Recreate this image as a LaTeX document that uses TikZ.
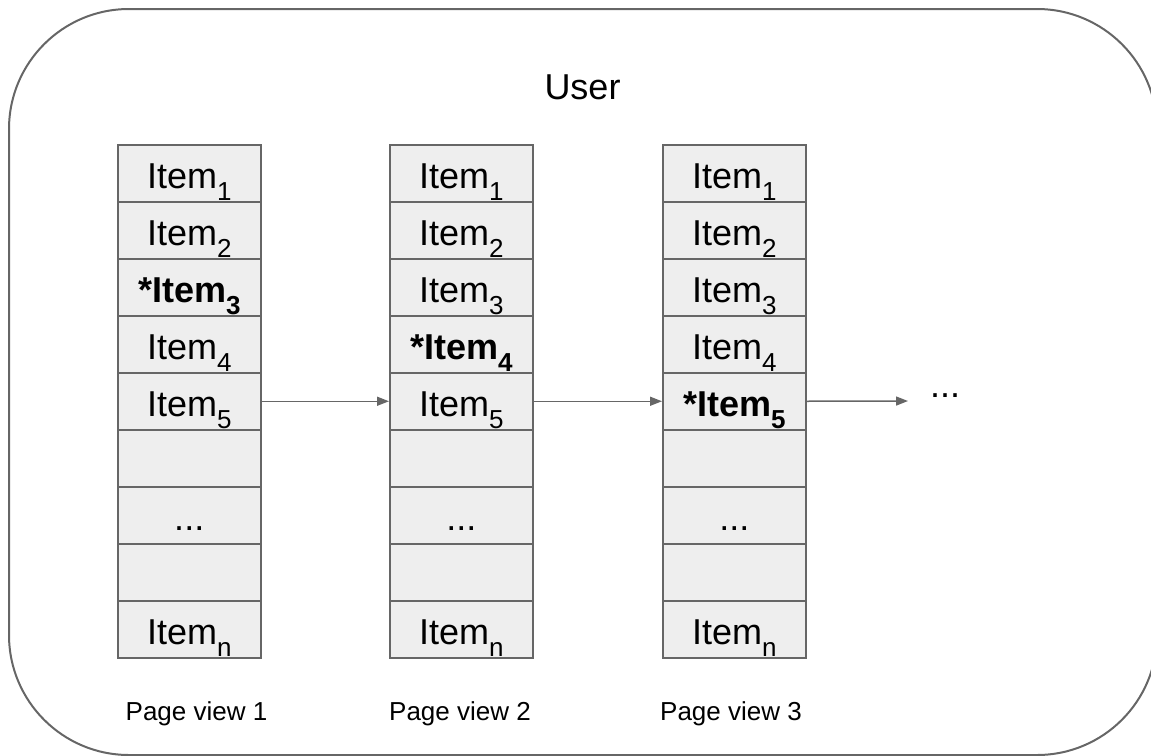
\documentclass[tikz,border=0pt]{standalone}
\usepackage{fontspec}
\setmainfont{Liberation Sans}
\usetikzlibrary{arrows.meta}
\definecolor{edgegray}{HTML}{666666}
\definecolor{cellfill}{HTML}{EEEEEE}
\newcommand{\itm}[1]{Item\raisebox{-12.5pt}{\fontsize{26}{26}\selectfont #1}}
\newcommand{\bitm}[1]{\textbf{*Item\raisebox{-12.5pt}{\fontsize{26}{26}\selectfont #1}}}
\newcommand{\cellcontent}[2]{\ifnum#1<6 \ifnum#1=#2 \bitm{#1}\else\itm{#1}\fi\else\ifnum#1=7 ...\else\ifnum#1=9 \itm{n}\fi\fi\fi}
\begin{document}
\begin{tikzpicture}[x=1pt,y=-1pt,
  cell/.style={draw=edgegray, fill=cellfill, line width=1.5pt, minimum width=143pt,
    minimum height=57pt, inner sep=0pt, anchor=north west, text height=30pt,
    text depth=0pt, font=\fontsize{36}{36}\selectfont},
  arr/.style={draw=edgegray, line width=1.5pt, -{Triangle[length=12pt,width=9pt]}},
  pv/.style={anchor=base, font=\fontsize{26}{26}\selectfont}]
\useasboundingbox (0,0) rectangle (1151,755);
\clip (0,0) rectangle (1151,755);
\draw[edgegray, line width=2pt, rounded corners=120pt] (9,9) rectangle (1157,755);
\node[anchor=base, font=\fontsize{36}{36}\selectfont] (user) at (582.5,99) {User};
\foreach \c/\x/\b in {1/117/3,2/389/4,3/662/5}{
  \foreach \r in {1,...,9}{
    \node[cell] (c\c r\r) at (\x,{144+(\r-1)*57}) {\cellcontent{\r}{\b}};
  }
}
\node[anchor=west, inner xsep=22pt, inner ysep=0pt, text height=0pt, text depth=8pt,
  font=\fontsize{36}{36}\selectfont] (more) at (908,401) {...};
\draw[arr] (c1r5.east) -- (c2r5.west);
\draw[arr] (c2r5.east) -- (c3r5.west);
\draw[arr] (c3r5.east) -- (more.west);
\node[pv] (pv1) at (196.5,720) {Page view 1};
\node[pv] (pv2) at (460,720) {Page view 2};
\node[pv] (pv3) at (731,720) {Page view 3};
\end{tikzpicture}
\end{document}
